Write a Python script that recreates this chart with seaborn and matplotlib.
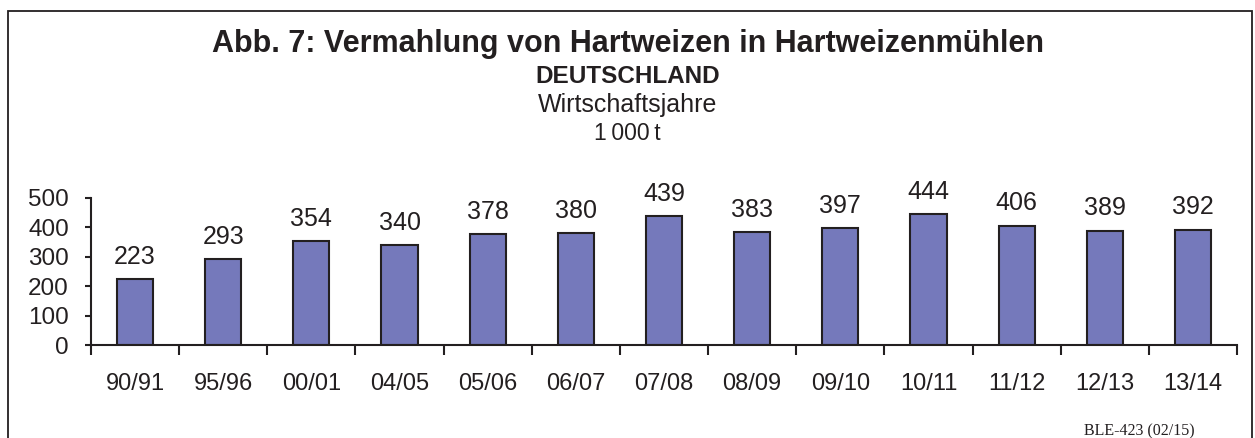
import matplotlib
matplotlib.use("Agg")
import matplotlib.pyplot as plt
import seaborn as sns
import pandas as pd
from matplotlib.patches import Rectangle

# Daten: Vermahlung von Hartweizen (1 000 t)
jahre = ['90/91', '95/96', '00/01', '04/05', '05/06', '06/07', '07/08',
         '08/09', '09/10', '10/11', '11/12', '12/13', '13/14']
menge = [223, 293, 354, 340, 378, 380, 439, 383, 397, 444, 406, 389, 392]
y_ticks = [0, 100, 200, 300, 400, 500]

df = pd.DataFrame({'Jahr': jahre, 'Menge': menge})

sns.set_style('white')
plt.rcParams['font.family'] = ['Liberation Sans', 'DejaVu Sans']
ink = '#231f20'
plt.rcParams['text.color'] = ink
plt.rcParams['xtick.color'] = ink
plt.rcParams['ytick.color'] = ink

fig = plt.figure(figsize=(12.55, 4.38), dpi=100)
ax = fig.add_axes([91 / 1255, 1 - 345 / 438, 1146 / 1255, 147 / 438])

sns.barplot(data=df, x='Jahr', y='Menge', color='#7579bb', saturation=1,
            width=0.41, edgecolor=ink, linewidth=1.5, ax=ax)

ax.set_xlim(-0.5, len(jahre) - 0.5)
ax.set_ylim(0, 500)
ax.set_yticks(y_ticks)
ax.set_xlabel('')
ax.set_ylabel('')

# Achsen
for s in ['top', 'right']:
    ax.spines[s].set_visible(False)
for s in ['left', 'bottom']:
    ax.spines[s].set_color(ink)
    ax.spines[s].set_linewidth(1.5)

ax.tick_params(axis='y', direction='out', length=4, width=1.5, labelsize=17.5, pad=12, left=True)
ax.tick_params(axis='x', which='major', length=0, labelsize=17, pad=20)
ax.set_xticks([i - 0.5 for i in range(len(jahre) + 1)], minor=True)
ax.tick_params(axis='x', which='minor', direction='out', length=7.5, width=1.5, bottom=True)

# Werte über den Balken
for i, v in enumerate(menge):
    ax.annotate(str(v), (i, v), xytext=(0, 11), textcoords='offset points',
                ha='center', va='baseline', fontsize=18)

# Titel
fig.text(0.5, 1 - 52 / 438, 'Abb. 7: Vermahlung von Hartweizen in Hartweizenmühlen',
         ha='center', va='baseline', fontsize=22, fontweight='bold')
fig.text(0.5, 1 - 83 / 438, 'DEUTSCHLAND', ha='center', va='baseline',
         fontsize=17.5, fontweight='bold')
fig.text(0.5, 1 - 112 / 438, 'Wirtschaftsjahre', ha='center', va='baseline', fontsize=18)
fig.text(0.5, 1 - 140.5 / 438, '1\u2009000\u2009t', ha='center', va='baseline', fontsize=16.5)

# Quelle
fig.text(1195 / 1255, 0.006, 'BLE-423 (02/15)', ha='right', va='baseline', fontsize=11.5,
         family='Liberation Serif')

# Rahmen
fig.patches.append(Rectangle((8 / 1255, -0.1), 1244 / 1255, 1.1 - 11 / 438,
                             transform=fig.transFigure, fill=False,
                             edgecolor=ink, linewidth=1.3))

fig.savefig('out.png', dpi=100)
